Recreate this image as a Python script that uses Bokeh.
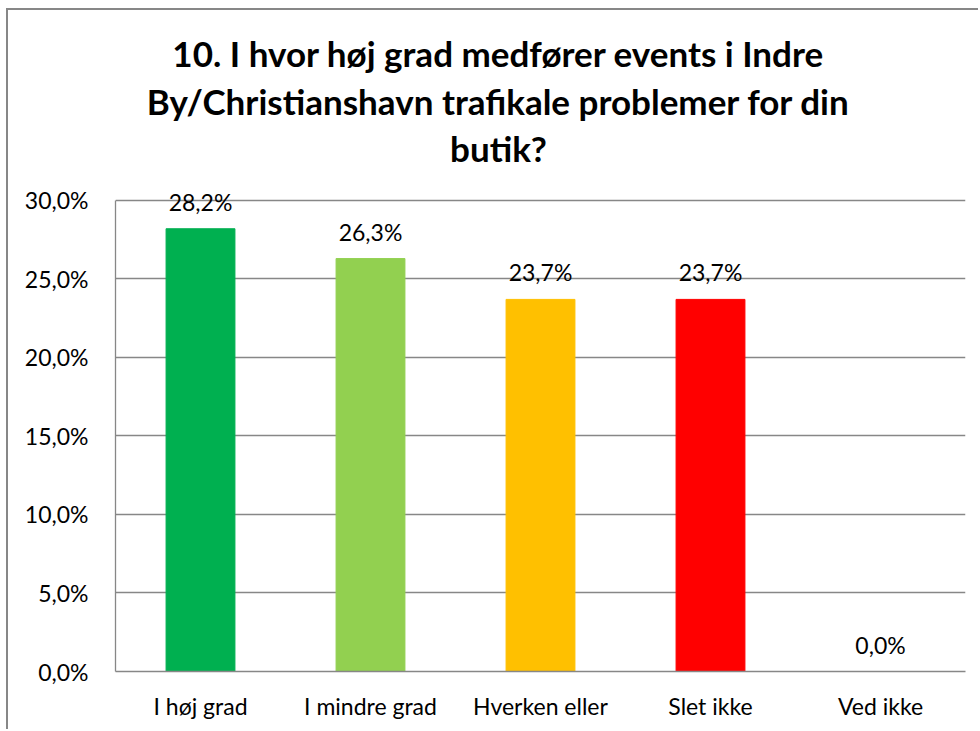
from bokeh.plotting import figure
from bokeh.models import ColumnDataSource, FactorRange, FixedTicker, Label, LabelSet, Range1d
from bokeh.core.properties import value
from bokeh.embed import file_html
from bokeh.resources import INLINE

categories = ["I høj grad", "I mindre grad", "Hverken eller", "Slet ikke", "Ved ikke"]
values = [28.2, 26.3, 23.7, 23.7, 0.0]
colors = ["#00B050", "#92D050", "#FFC000", "#FF0000", "#FFFFFF"]
y_ticks = [0, 5, 10, 15, 20, 25, 30]
title_lines = ["10. I hvor høj grad medfører events i Indre",
               "By/Christianshavn trafikale problemer for din",
               "butik?"]

def pct(v):
    return f"{v:.1f}".replace(".", ",") + "%"

labels = [pct(v) for v in values]
src = ColumnDataSource(dict(cat=categories, val=values, color=colors, label=labels))

FONT = "Lato"
GRAY = "#878787"
AXIS_MAX = 30
VIEW_MAX = 42.10  # extra headroom inside the frame for the title

p = figure(x_range=FactorRange(*categories, range_padding=0), y_range=Range1d(0, VIEW_MAX),
           width=972, height=721, output_backend="svg", toolbar_location=None,
           min_border_left=107, min_border_right=15, min_border_bottom=60, min_border_top=0)
p.styles = {"margin-left": "6px", "margin-top": "8px",
            "border-left": f"2px solid {GRAY}", "border-top": f"2px solid {GRAY}"}
p.outline_line_color = None
p.background_fill_color = "white"
p.border_fill_color = "white"

p.vbar(x="cat", top="val", width=0.405, color="color", source=src)
p.add_layout(LabelSet(x="cat", y="val", text="label", source=src, text_align="center",
                      text_baseline="middle", y_offset=27, text_font=value(FONT),
                      text_font_size=value("23px"), text_color="black"))

# Title lines placed above the 30% gridline
for line, dy in zip(title_lines, [147, 99, 52]):
    p.add_layout(Label(x=2.5, y=AXIS_MAX, x_offset=-42, y_offset=dy, text=line,
                       text_align="center", text_baseline="middle", text_font=FONT,
                       text_font_size="35px", text_font_style="bold", text_color="black"))

p.yaxis.ticker = FixedTicker(ticks=y_ticks)
p.yaxis.bounds = (0, AXIS_MAX)
p.yaxis.major_label_overrides = {t: pct(t) for t in y_ticks}
p.yaxis.major_label_text_font = FONT
p.yaxis.major_label_text_font_size = "23px"
p.yaxis.major_label_text_color = "black"
p.yaxis.major_tick_line_color = None
p.yaxis.minor_tick_line_color = None
p.yaxis.major_label_standoff = 21
p.yaxis.axis_line_color = GRAY
p.yaxis.axis_line_width = 1.3

p.xaxis.major_label_text_font = FONT
p.xaxis.major_label_text_font_size = "23px"
p.xaxis.major_label_text_color = "black"
p.xaxis.major_tick_line_color = None
p.xaxis.minor_tick_line_color = None
p.xaxis.major_label_standoff = 14
p.xaxis.axis_line_color = GRAY
p.xaxis.axis_line_width = 1.3

p.xgrid.grid_line_color = None
p.ygrid.grid_line_color = GRAY
p.ygrid.grid_line_width = 1.3

open("out.html", "w").write(file_html(p, INLINE))
